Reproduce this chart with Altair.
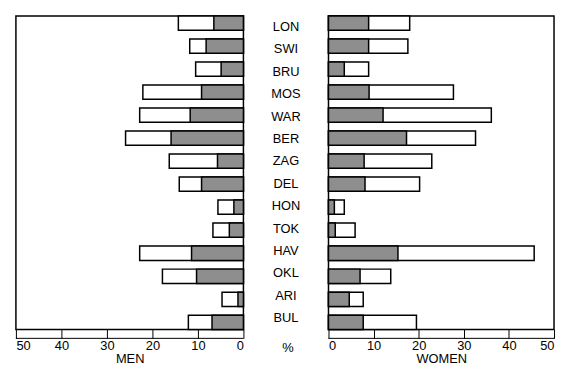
import altair as alt
import pandas as pd

cities = ["LON", "SWI", "BRU", "MOS", "WAR", "BER", "ZAG", "DEL", "HON", "TOK", "HAV", "OKL", "ARI", "BUL"]
men_total = [14.3, 11.8, 10.5, 22.1, 22.8, 25.9, 16.3, 14.1, 5.6, 6.7, 22.8, 17.8, 4.7, 12.1]
men_part = [6.5, 8.2, 4.9, 9.2, 11.7, 15.9, 5.7, 9.2, 2.1, 3.1, 11.4, 10.3, 1.2, 6.9]
women_total = [18.0, 17.6, 8.9, 27.7, 36.1, 32.6, 22.9, 20.2, 3.5, 5.9, 45.6, 13.8, 7.7, 19.5]
women_part = [8.9, 8.9, 3.5, 9.0, 12.1, 17.3, 7.9, 8.1, 1.3, 1.5, 15.4, 7.0, 4.6, 7.7]
tick_values = [0, 5, 10, 15, 20, 25, 30, 35, 40, 45, 50]

df = pd.DataFrame({
    "city": cities,
    "men_total": men_total,
    "men_part": men_part,
    "women_total": women_total,
    "women_part": women_part,
})
one = pd.DataFrame({"t": ["%"]})

H = 317
MID = 86
FONT = "Liberation Sans"
HATCH = "#8e8e8e"

yscale = alt.Scale(domain=cities, paddingInner=0.38, paddingOuter=0)


def panel(total_col, part_col, reverse, title, width):
    xs = alt.Scale(domain=[0, 50], reverse=reverse, nice=False, zero=True)
    axis = alt.Axis(
        values=tick_values,
        labelExpr="datum.value % 10 == 0 ? datum.label : ''",
        tickSize=9, tickColor="black", tickWidth=1,
        domain=False, grid=False,
        labelFontSize=13, labelColor="black", labelFont=FONT, labelPadding=1,
        title=title, titleFontSize=13, titleFontWeight="normal", titleFont=FONT,
        titleColor="black", titlePadding=0,
    )
    y = alt.Y("city:N", scale=yscale, sort=cities, axis=None)
    base = alt.Chart(df)
    total = base.mark_bar(fill="white", stroke="black", strokeWidth=1.5).encode(
        x=alt.X(f"{total_col}:Q", scale=xs, axis=axis), y=y
    )
    part = base.mark_bar(fill=HATCH, stroke="black", strokeWidth=1.5).encode(
        x=alt.X(f"{part_col}:Q", scale=xs), y=y
    )
    strip = alt.Chart(one).mark_rule(color="black", strokeWidth=1).encode(
        x=alt.value(0), x2=alt.value(width), y=alt.value(H + 9)
    )
    return alt.layer(total, part, strip).properties(
        width=width, height=H,
        view=alt.ViewBackground(stroke="black", strokeWidth=1.5),
    )


left = panel("men_total", "men_part", True, "MEN", 230)
right = panel("women_total", "women_part", False, "WOMEN", 228)

labels = alt.Chart(df).mark_text(fontSize=13, font=FONT, color="black").encode(
    y=alt.Y("city:N", scale=yscale, sort=cities, axis=None),
    x=alt.value(MID / 2),
    text="city:N",
)
pct = alt.Chart(one).mark_text(fontSize=13, font=FONT, color="black").encode(
    x=alt.value(MID / 2 + 2), y=alt.value(H + 19), text="t:N"
)
middle = alt.layer(labels, pct).properties(
    width=MID, height=H, view=alt.ViewBackground(stroke=None)
)

chart = alt.hconcat(left, middle, right, spacing=0, bounds="flush").properties(
    padding={"left": 6, "top": 4, "right": 0, "bottom": 0}
).configure_view(stroke=None)

chart.save("out.html", embed_options={"renderer": "svg", "actions": False})
